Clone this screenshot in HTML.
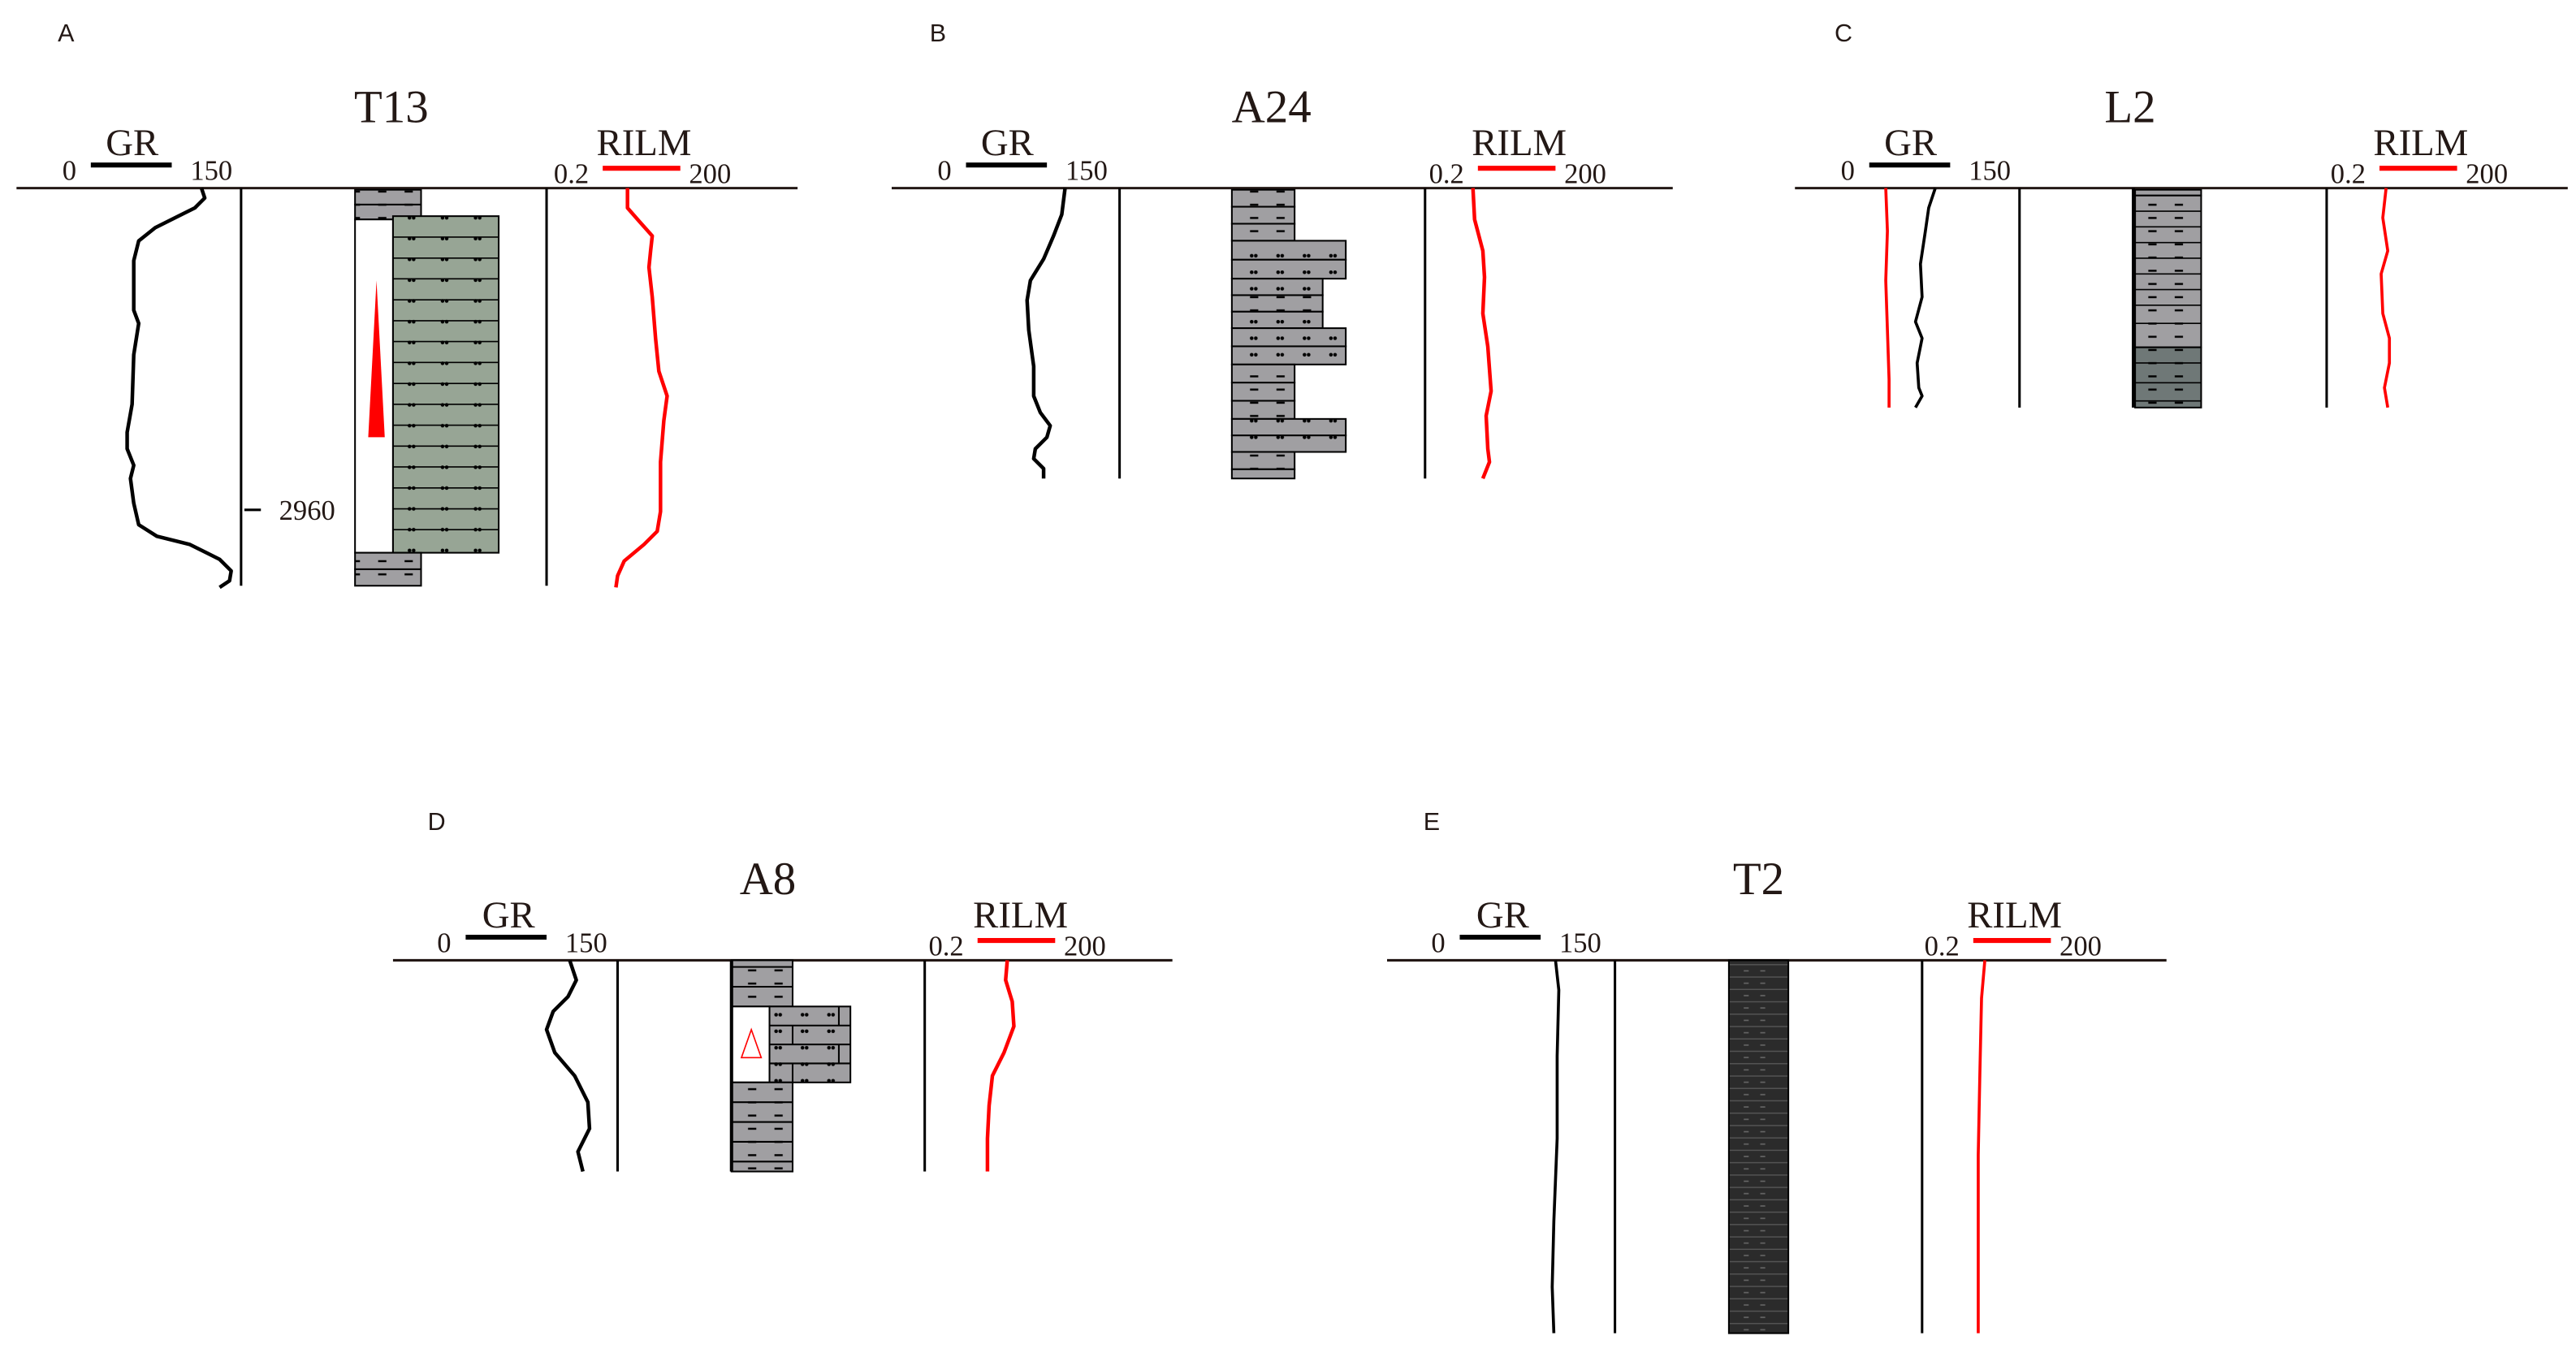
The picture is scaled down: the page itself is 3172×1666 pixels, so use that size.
<!DOCTYPE html>
<html><head><meta charset="utf-8"><style>
html,body{margin:0;padding:0;background:#fff;width:3172px;height:1666px;overflow:hidden}
svg{display:block}
.t{font-family:"Liberation Serif",serif;fill:#231815}
.s{font-family:"Liberation Sans",sans-serif;fill:#231815}
</style></head><body>
<svg width="3172" height="1666" viewBox="0 0 1560 820" preserveAspectRatio="none" xmlns="http://www.w3.org/2000/svg">
<defs>
<pattern id="sh" x="0" y="0" width="16" height="8" patternUnits="userSpaceOnUse"><rect width="16" height="8" fill="#a09fa2"/><rect x="5" y="3.5" width="5" height="1.2" fill="#000"/></pattern>
<pattern id="shd" x="0" y="0" width="16" height="8" patternUnits="userSpaceOnUse"><rect width="16" height="8" fill="#6f7877"/><rect x="5" y="3.5" width="5" height="1.2" fill="#000"/></pattern>
<pattern id="gs" x="0" y="0" width="20" height="12.6" patternUnits="userSpaceOnUse"><rect width="20" height="12.6" fill="#97a595"/><circle cx="8" cy="6" r="1.1" fill="#000"/><circle cx="10.5" cy="6" r="1.1" fill="#000"/></pattern>
<pattern id="gy" x="0" y="0" width="16" height="10" patternUnits="userSpaceOnUse"><rect width="16" height="10" fill="#a09fa2"/><circle cx="6" cy="5" r="1.1" fill="#000"/><circle cx="8.5" cy="5" r="1.1" fill="#000"/></pattern>
<pattern id="dk" x="0" y="0" width="36" height="7.5" patternUnits="userSpaceOnUse"><rect width="36" height="7.5" fill="#2b2b2b"/><rect y="6.8" width="36" height="0.7" fill="#555"/><rect x="12" y="3" width="3" height="0.8" fill="#666"/><rect x="22" y="3" width="3" height="0.8" fill="#666"/></pattern>
</defs>

<g fill="none" stroke="#231815" stroke-width="1.5">
<line x1="10" y1="114" x2="483" y2="114"/>
<line x1="540" y1="114" x2="1013" y2="114"/>
<line x1="1087" y1="114" x2="1555" y2="114"/>
<line x1="238" y1="582" x2="710" y2="582"/>
<line x1="840" y1="582" x2="1312" y2="582"/>
</g>
<g stroke="#000" stroke-width="1.5">
<line x1="146" y1="114" x2="146" y2="355"/><line x1="331" y1="114" x2="331" y2="355"/>
<line x1="678" y1="114" x2="678" y2="290"/><line x1="863" y1="114" x2="863" y2="290"/>
<line x1="1223" y1="114" x2="1223" y2="247"/><line x1="1409" y1="114" x2="1409" y2="247"/>
<line x1="374" y1="582" x2="374" y2="710"/><line x1="560" y1="582" x2="560" y2="710"/>
<line x1="978" y1="582" x2="978" y2="808"/><line x1="1164" y1="582" x2="1164" y2="808"/>
<line x1="148" y1="309" x2="158" y2="309"/>
</g>

<g stroke-width="3">
<line x1="55" y1="100" x2="104" y2="100" stroke="#000"/><line x1="365" y1="102" x2="412" y2="102" stroke="#f00"/>
<line x1="585" y1="100" x2="634" y2="100" stroke="#000"/><line x1="895" y1="102" x2="942" y2="102" stroke="#f00"/>
<line x1="1132" y1="100" x2="1181" y2="100" stroke="#000"/><line x1="1441" y1="102" x2="1488" y2="102" stroke="#f00"/>
<line x1="282" y1="568" x2="331" y2="568" stroke="#000"/><line x1="592" y1="570" x2="639" y2="570" stroke="#f00"/>
<line x1="884" y1="568" x2="933" y2="568" stroke="#000"/><line x1="1195" y1="570" x2="1242" y2="570" stroke="#f00"/>
</g>

<g class="s" font-size="15"><text x="35" y="25">A</text><text x="563" y="25">B</text><text x="1111" y="25">C</text><text x="259" y="503">D</text><text x="862" y="503">E</text></g>
<g class="t" text-anchor="middle">
<text x="237" y="74" font-size="28">T13</text><text x="770" y="74" font-size="28">A24</text><text x="1290" y="74" font-size="28">L2</text><text x="465" y="542" font-size="28">A8</text><text x="1065" y="542" font-size="28">T2</text>
<g font-size="23"><text x="80" y="94">GR</text><text x="390" y="94">RILM</text><text x="610" y="94">GR</text><text x="920" y="94">RILM</text><text x="1157" y="94">GR</text><text x="1466" y="94">RILM</text><text x="308" y="562">GR</text><text x="618" y="562">RILM</text><text x="910" y="562">GR</text><text x="1220" y="562">RILM</text></g>
<g font-size="17">
<text x="42" y="109">0</text><text x="128" y="109">150</text><text x="346" y="111">0.2</text><text x="430" y="111">200</text>
<text x="572" y="109">0</text><text x="658" y="109">150</text><text x="876" y="111">0.2</text><text x="960" y="111">200</text>
<text x="1119" y="109">0</text><text x="1205" y="109">150</text><text x="1422" y="111">0.2</text><text x="1506" y="111">200</text>
<text x="269" y="577">0</text><text x="355" y="577">150</text><text x="573" y="579">0.2</text><text x="657" y="579">200</text>
<text x="871" y="577">0</text><text x="957" y="577">150</text><text x="1176" y="579">0.2</text><text x="1260" y="579">200</text>
<text x="186" y="315">2960</text>
</g></g>

<g stroke="#000" stroke-width="1">
<rect x="215" y="115" width="40" height="9" fill="url(#sh)"/><rect x="215" y="124" width="40" height="9" fill="url(#sh)"/>
<rect x="215" y="133" width="23" height="202" fill="#fff"/>
<rect x="238" y="131" width="64" height="204" fill="url(#gs)"/>
<g stroke-width="0.8"><line x1="238" y1="143.7" x2="302" y2="143.7"/><line x1="238" y1="156.4" x2="302" y2="156.4"/><line x1="238" y1="169" x2="302" y2="169"/><line x1="238" y1="181.7" x2="302" y2="181.7"/><line x1="238" y1="194.4" x2="302" y2="194.4"/><line x1="238" y1="207" x2="302" y2="207"/><line x1="238" y1="219.7" x2="302" y2="219.7"/><line x1="238" y1="232.4" x2="302" y2="232.4"/><line x1="238" y1="245" x2="302" y2="245"/><line x1="238" y1="257.7" x2="302" y2="257.7"/><line x1="238" y1="270.4" x2="302" y2="270.4"/><line x1="238" y1="283" x2="302" y2="283"/><line x1="238" y1="295.7" x2="302" y2="295.7"/><line x1="238" y1="308.4" x2="302" y2="308.4"/><line x1="238" y1="321" x2="302" y2="321"/></g>
<rect x="215" y="335" width="40" height="10" fill="url(#sh)"/><rect x="215" y="345" width="40" height="10" fill="url(#sh)"/>
</g>
<polygon points="228,170 223,265 233,265" fill="#f00"/>

<g stroke="#000" stroke-width="1">
<rect x="746" y="115" width="38" height="10.3" fill="url(#sh)"/><rect x="746" y="125.3" width="38" height="10.3" fill="url(#sh)"/><rect x="746" y="135.6" width="38" height="10.3" fill="url(#sh)"/>
<rect x="746" y="145.9" width="69" height="11.5" fill="url(#gy)"/><rect x="746" y="157.4" width="69" height="11.5" fill="url(#gy)"/>
<rect x="746" y="168.9" width="55" height="10" fill="url(#gy)"/><rect x="746" y="178.9" width="55" height="10" fill="url(#sh)"/><rect x="746" y="188.9" width="55" height="10" fill="url(#gy)"/>
<rect x="746" y="198.9" width="69" height="11" fill="url(#gy)"/><rect x="746" y="209.9" width="69" height="11" fill="url(#gy)"/>
<rect x="746" y="220.9" width="38" height="11" fill="url(#sh)"/><rect x="746" y="231.9" width="38" height="11" fill="url(#sh)"/><rect x="746" y="242.9" width="38" height="11" fill="url(#sh)"/>
<rect x="746" y="253.9" width="69" height="10" fill="url(#gy)"/><rect x="746" y="263.9" width="69" height="10" fill="url(#gy)"/>
<rect x="746" y="273.9" width="38" height="10.5" fill="url(#sh)"/><rect x="746" y="284.4" width="38" height="5.6" fill="url(#sh)"/>
</g>

<g stroke="#000" stroke-width="1">
<rect x="1293" y="115" width="40" height="3.5" fill="#a09fa2"/>
<rect x="1293" y="118.5" width="40" height="92" fill="url(#sh)"/>
<rect x="1293" y="210.5" width="40" height="36.5" fill="url(#shd)"/>
<g stroke-width="0.8"><line x1="1293" y1="128" x2="1333" y2="128"/><line x1="1293" y1="137.5" x2="1333" y2="137.5"/><line x1="1293" y1="147" x2="1333" y2="147"/><line x1="1293" y1="156.5" x2="1333" y2="156.5"/><line x1="1293" y1="166" x2="1333" y2="166"/><line x1="1293" y1="175.5" x2="1333" y2="175.5"/><line x1="1293" y1="185" x2="1333" y2="185"/><line x1="1293" y1="196" x2="1333" y2="196"/><line x1="1293" y1="220" x2="1333" y2="220"/><line x1="1293" y1="232" x2="1333" y2="232"/><line x1="1293" y1="243" x2="1333" y2="243"/></g>
<line x1="1292" y1="114" x2="1292" y2="247" stroke-width="2"/>
</g>

<g stroke="#000" stroke-width="1">
<rect x="443" y="582" width="37" height="28" fill="url(#sh)"/>
<line x1="443" y1="586" x2="480" y2="586"/><line x1="443" y1="598" x2="480" y2="598"/>
<rect x="443" y="610" width="23" height="46" fill="#fff"/>
<rect x="466" y="610" width="49" height="46" fill="url(#gy)"/>
<line x1="466" y1="621.5" x2="515" y2="621.5"/><line x1="466" y1="633" x2="515" y2="633"/><line x1="466" y1="644.5" x2="515" y2="644.5"/>
<line x1="508" y1="610" x2="508" y2="621.5"/><line x1="480" y1="621.5" x2="480" y2="633"/><line x1="508" y1="633" x2="508" y2="644.5"/><line x1="480" y1="644.5" x2="480" y2="656"/>
<rect x="443" y="656" width="37" height="54" fill="url(#sh)"/>
<line x1="443" y1="668" x2="480" y2="668"/><line x1="443" y1="680" x2="480" y2="680"/><line x1="443" y1="692" x2="480" y2="692"/><line x1="443" y1="704" x2="480" y2="704"/>
<line x1="443" y1="582" x2="443" y2="710" stroke-width="2"/>
</g>
<polygon points="455,624 449,641 461,641" fill="none" stroke="#f00" stroke-width="0.8"/>

<rect x="1047" y="582" width="36" height="226" fill="url(#dk)" stroke="#000" stroke-width="1"/>

<g fill="none" stroke-width="2.2" stroke-linejoin="round">
<polyline stroke="#000" points="122,114 124,120 118,126 108,131 94,138 84,146 81,158 81,188 84,196 81,215 80,245 77,262 77,272 81,282 79,290 81,305 84,318 95,325 115,330 133,339 140,346 139,352 133,356"/>
<polyline stroke="#f00" points="380,114 380,126 387,134 395,143 394,152 393,162 395,180 397,205 399,225 404,240 402,255 400,280 400,310 398,322 390,330 378,340 374,349 373,356"/>
<polyline stroke="#000" points="645,114 643,130 638,143 632,157 624,170 622,182 623,200 626,222 626,240 630,250 636,258 634,265 627,272 626,278 632,284 632,290"/>
<polyline stroke="#f00" points="892,114 893,133 898,152 899,168 898,190 901,210 903,237 900,252 901,272 902,280 898,290"/>
<polyline stroke="#f00" stroke-width="1.8" points="1142,114 1143,140 1142,170 1143,200 1144,230 1144,247"/>
<polyline stroke="#000" stroke-width="1.8" points="1172,114 1168,126 1166,140 1163,160 1164,180 1160,195 1164,205 1161,220 1162,235 1164,240 1160,247"/>
<polyline stroke="#f00" stroke-width="1.8" points="1445,114 1443,132 1446,152 1442,166 1443,190 1447,205 1447,220 1444,235 1446,247"/>
<polyline stroke="#000" points="345,582 349,594 344,604 335,613 331,624 336,638 348,652 356,668 357,684 350,698 353,710"/>
<polyline stroke="#f00" points="610,582 609,594 613,607 614,622 608,638 601,652 599,670 598,690 598,710"/>
<polyline stroke="#000" stroke-width="1.8" points="942,582 944,600 943,640 943,690 941,740 940,780 941,808"/>
<polyline stroke="#f00" stroke-width="1.8" points="1202,582 1200,605 1199,650 1198,700 1198,750 1198,808"/>
</g>
</svg>
</body></html>
